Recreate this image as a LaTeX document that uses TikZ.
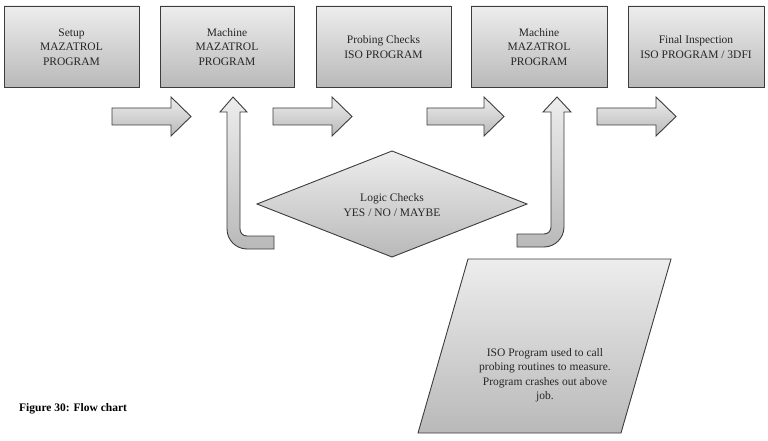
\documentclass[tikz,border=0pt]{standalone}
\usepackage{fontspec}
\setmainfont{Liberation Serif}
\definecolor{edgec}{HTML}{3C3C3C}
\definecolor{topc}{HTML}{EDEDED}
\definecolor{botc}{HTML}{B9B9B9}
\begin{document}
\begin{tikzpicture}[x=1pt,y=-1pt,
  shp/.style={draw=edgec, line width=0.9pt, top color=topc, bottom color=botc},
  boxtext/.style={align=center, font=\fontsize{11.5}{14.5}\selectfont, text=black!85},
  stepbox/.style={shp}]
\useasboundingbox (0,0) rectangle (768,441);
% boxes
\foreach \n/\a/\b in {b1/4/139, b2/160/294, b3/316/451, b4/471/607, b5/628/764}{
  \path[stepbox] (\a,6) rectangle (\b,87);
  \coordinate (\n) at ({(\a+\b)/2},47);
}
\node[boxtext] (t1) at (b1) {Setup\\MAZATROL\\PROGRAM};
\node[boxtext] (t2) at (b2) {Machine\\MAZATROL\\PROGRAM};
\node[boxtext] (t3) at (b3) {Probing Checks\\ISO PROGRAM};
\node[boxtext] (t4) at (b4) {Machine\\MAZATROL\\PROGRAM};
\node[boxtext] (t5) at (b5) {Final Inspection\\ISO PROGRAM / 3DFI};
% horizontal block arrows
\foreach \x/\h/\t in {112/171/191, 273/332/352, 427/484/504, 597/656/676}{
  \path[shp] (\x,108) -- (\h,108) -- (\h,97) -- (\t,116.5) -- (\h,136) -- (\h,125) -- (\x,125) -- cycle;
}
% U-turn arrow 1
\path[shp] (233,97) -- (247,112) -- (240,112) -- (240,229)
  .. controls (240,233) and (243,236) .. (247,236) -- (274,236) -- (274,249) -- (247,249)
  .. controls (236,249) and (227,240) .. (227,229) -- (227,112) -- (220,112) -- cycle;
% U-turn arrow 2
\path[shp] (557,97) -- (571,112) -- (564,112) -- (564,227)
  .. controls (564,238) and (555,247) .. (544,247) -- (517,247) -- (517,234) -- (544,234)
  .. controls (548,234) and (551,231) .. (551,227) -- (551,112) -- (543,112) -- cycle;
% diamond
\path[shp] (392,151) -- (527,204) -- (392,257) -- (257,204) -- cycle;
\node[boxtext] (logic) at (392,205) {Logic Checks\\YES / NO / MAYBE};
% parallelogram
\path[shp] (468,259) -- (671,259) -- (621,433) -- (418,433) -- cycle;
\node[boxtext] (iso) at (545,375) {ISO Program used to call\\probing routines to measure.\\Program crashes out above\\job.};
% caption
\node[anchor=base west, inner sep=0pt, font=\fontsize{11.5}{14}\selectfont\bfseries] (cap) at (19,411) {Figure 30: Flow chart};
\end{tikzpicture}
\end{document}
